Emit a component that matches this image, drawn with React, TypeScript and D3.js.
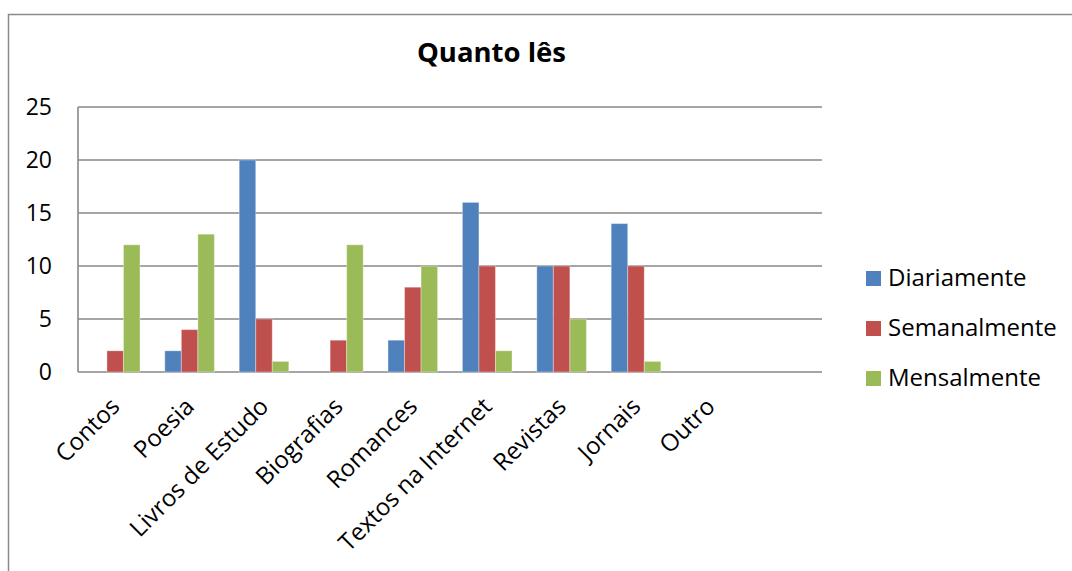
import React from "react";
import * as d3 from "d3";

// Reading frequency by type of text
const categories = [
  "Contos",
  "Poesia",
  "Livros de Estudo",
  "Biografias",
  "Romances",
  "Textos na Internet",
  "Revistas",
  "Jornais",
  "Outro",
  "",
];
const diariamente = [0, 2, 20, 0, 3, 16, 10, 14, 0, 0];
const semanalmente = [2, 4, 5, 3, 8, 10, 10, 10, 0, 0];
const mensalmente = [12, 13, 1, 12, 10, 2, 5, 1, 0, 0];
const seriesNames = ["Diariamente", "Semanalmente", "Mensalmente"];
const seriesColors = ["#4F81BD", "#C0504D", "#9BBB59"];
const yTicks = [0, 5, 10, 15, 20, 25];
const title = "Quanto lês";

const W = 1072;
const H = 571;
const plot = { left: 78, right: 822, top: 107, bottom: 372 };
const FONT = "'Open Sans', sans-serif";
const GRID = "#878787";

export default function App() {
  const series = [diariamente, semanalmente, mensalmente];

  const x = d3
    .scaleBand<string>()
    .domain(categories)
    .range([plot.left, plot.right])
    .paddingInner(0)
    .paddingOuter(0);

  const xInner = d3
    .scaleBand<number>()
    .domain([0, 1, 2])
    .range([0, x.bandwidth()])
    .paddingInner(0)
    .paddingOuter(0.75);

  const y = d3.scaleLinear().domain([0, 25]).range([plot.bottom, plot.top]);

  return (
    <svg
      width={W}
      height={H}
      style={{ position: "absolute", left: 0, top: 0, background: "#fff" }}
    >
      {/* chart frame */}
      <rect
        x={8.5}
        y={14.5}
        width={W + 10}
        height={H + 10}
        fill="#fff"
        stroke="#8a8a8a"
        strokeWidth={1.5}
      />

      <text
        x={491.5}
        y={62}
        textAnchor="middle"
        fontFamily={FONT}
        fontWeight={700}
        fontSize={27.5}
        fill="#000"
      >
        {title}
      </text>

      {/* gridlines and value labels */}
      {yTicks.map((t) => (
        <g key={t}>
          <line
            x1={plot.left}
            x2={plot.right}
            y1={y(t)}
            y2={y(t)}
            stroke={GRID}
            strokeWidth={1.6}
          />
          <text
            x={52}
            y={y(t)}
            dy="0.357em"
            textAnchor="end"
            fontFamily={FONT}
            fontSize={23}
            fill="#000"
          >
            {t}
          </text>
        </g>
      ))}
      <line
        x1={plot.left}
        x2={plot.left}
        y1={plot.top}
        y2={plot.bottom}
        stroke={GRID}
        strokeWidth={1.6}
      />

      {/* bars */}
      {categories.map((c, i) => (
        <g key={"bars-" + i} transform={`translate(${x(c)},0)`}>
          {series.map((vals, s) =>
            vals[i] > 0 ? (
              <rect
                key={s}
                x={xInner(s)}
                y={y(vals[i])}
                width={xInner.bandwidth()}
                height={y(0) - y(vals[i])}
                fill={seriesColors[s]}
                stroke="rgba(255,255,255,0.35)"
                strokeWidth={1}
              />
            ) : null
          )}
        </g>
      ))}

      {/* category labels */}
      {categories.map((c, i) => {
        const cx = (x(c) as number) + x.bandwidth() / 2 + 6;
        const cy = 408;
        return (
          <text
            key={"lab-" + i}
            transform={`translate(${cx},${cy}) rotate(-45)`}
            textAnchor="end"
            fontFamily={FONT}
            fontSize={24}
            fill="#000"
          >
            {c}
          </text>
        );
      })}

      {/* legend */}
      {seriesNames.map((name, s) => {
        const base = 286 + s * 50;
        return (
          <g key={name}>
            <rect
              x={866}
              y={base - 15}
              width={15}
              height={15}
              fill={seriesColors[s]}
            />
            <text
              x={888}
              y={base}
              fontFamily={FONT}
              fontSize={24}
              fill="#000"
            >
              {name}
            </text>
          </g>
        );
      })}
    </svg>
  );
}
